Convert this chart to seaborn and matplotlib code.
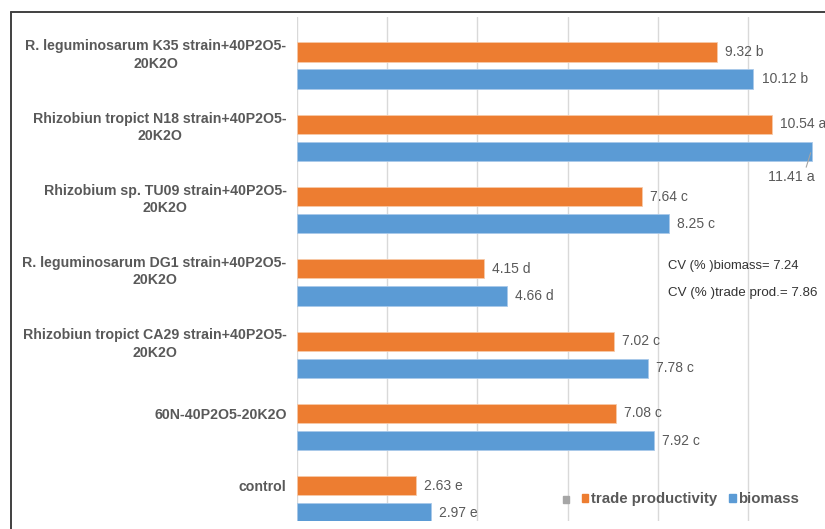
import pandas as pd
import numpy as np
import matplotlib
matplotlib.use("Agg")
import matplotlib.pyplot as plt
import seaborn as sns
from matplotlib.patches import Patch, Rectangle
from matplotlib.lines import Line2D

# data
treatments = ["R. leguminosarum K35 strain+40P2O5-\n20K2O",
              "Rhizobiun tropict N18 strain+40P2O5-\n20K2O",
              "Rhizobium sp. TU09 strain+40P2O5-\n20K2O",
              "R. leguminosarum DG1 strain+40P2O5-\n20K2O",
              "Rhizobiun tropict CA29 strain+40P2O5-\n20K2O",
              "60N-40P2O5-20K2O",
              "control"]
trade_productivity = [9.32, 10.54, 7.64, 4.15, 7.02, 7.08, 2.63]
trade_letters = ["b", "a", "c", "d", "c", "c", "e"]
biomass = [10.12, 11.41, 8.25, 4.66, 7.78, 7.92, 2.97]
biomass_letters = ["b", "a", "c", "d", "c", "c", "e"]
series_names = ["trade productivity", "biomass"]
colors = ["#ED7D31", "#5B9BD5"]

df = pd.DataFrame({
    "treatment": treatments * 2,
    "value": trade_productivity + biomass,
    "series": [series_names[0]] * len(treatments) + [series_names[1]] * len(treatments),
})

sns.set_style("white")
plt.rcParams['font.family'] = ['Liberation Sans', 'DejaVu Sans']

fig = plt.figure(figsize=(8.25, 5.29), dpi=100)
W, H = 825, 529
ax = fig.add_axes([297 / W, 1 - 521 / H, (W - 297) / W, (521 - 17) / H])

sns.barplot(data=df, y="treatment", x="value", hue="series", order=treatments,
            hue_order=series_names, palette=colors, orient="h", width=0.75,
            gap=0.29, ax=ax, legend=False, saturation=1,
            edgecolor="#f7c9a8", linewidth=0.6)
# lighter outline for the blue bars
for p in ax.patches[len(treatments):2 * len(treatments)]:
    p.set_edgecolor("#a9c9ea")

ax.set_xlim(0, 528 / 45.1)
ax.set_ylim(6.3, -0.67)
ax.set_xticks(np.arange(0, 12, 2))
ax.set_xticklabels([])
ax.tick_params(axis="x", length=0)
ax.grid(axis="x", color="#d9d9d9", linewidth=1)
ax.set_axisbelow(True)
for s in ax.spines.values():
    s.set_visible(False)
ax.set_xlabel("")
ax.set_ylabel("")

ax.set_yticks(np.arange(len(treatments)) - 0.19)
ax.set_yticklabels(treatments, fontsize=10.2, fontweight="bold", color="#595959",
                   linespacing=1.3)
for t in ax.get_yticklabels():
    t.set_multialignment("center")
ax.tick_params(axis="y", length=0, pad=7.5)

# value labels
off = 0.1875
for i in range(len(treatments)):
    ax.text(trade_productivity[i] + 0.18, i - off, f"{trade_productivity[i]:.2f} {trade_letters[i]}",
            va="center", ha="left", fontsize=10, color="#595959")
    if biomass[i] > 11:
        ax.text(biomass[i] - 0.97, i + off + 0.36, f"{biomass[i]:.2f} {biomass_letters[i]}",
                va="center", ha="left", fontsize=10.3, color="#595959", clip_on=False)
        ax.plot([biomass[i] - 0.02, biomass[i] - 0.12], [i + off + 0.02, i + off + 0.22],
                color="#a6a6a6", linewidth=0.8)
    else:
        ax.text(biomass[i] + 0.18, i + off, f"{biomass[i]:.2f} {biomass_letters[i]}",
                va="center", ha="left", fontsize=10, color="#595959")

# CV notes
fig.text(668 / W, 1 - 266 / H, "CV (% )biomass= 7.24", fontsize=9.4, color="#333333", va="center")
fig.text(668 / W, 1 - 293 / H, "CV (% )trade prod.= 7.86", fontsize=9.6, color="#333333", va="center")

# legend (with the stray grey key that sits in front of it)
fig.add_artist(Rectangle((563 / W, 1 - 503 / H), 6 / W, 7 / H, color="#a6a6a6",
                         transform=fig.transFigure))
handles = [Patch(color=colors[0], label=series_names[0]),
           Patch(color=colors[1], label=series_names[1])]
fig.legend(handles=handles, loc="center left", bbox_to_anchor=(568 / W, 1 - 499 / H),
           ncol=2, frameon=False, handlelength=0.45, handleheight=0.45,
           handletextpad=0.2, columnspacing=0.75, prop={"weight": "bold", "size": 10.8},
           labelcolor="#595959")

# outer frame
fig.add_artist(Line2D([11 / W, 11 / W], [0, 1 - 12 / H], color="#404040", linewidth=1.4,
                      transform=fig.transFigure))
fig.add_artist(Line2D([11 / W, 1], [1 - 12 / H, 1 - 12 / H], color="#404040", linewidth=1.4,
                      transform=fig.transFigure))

fig.savefig("out.png", dpi=100)
